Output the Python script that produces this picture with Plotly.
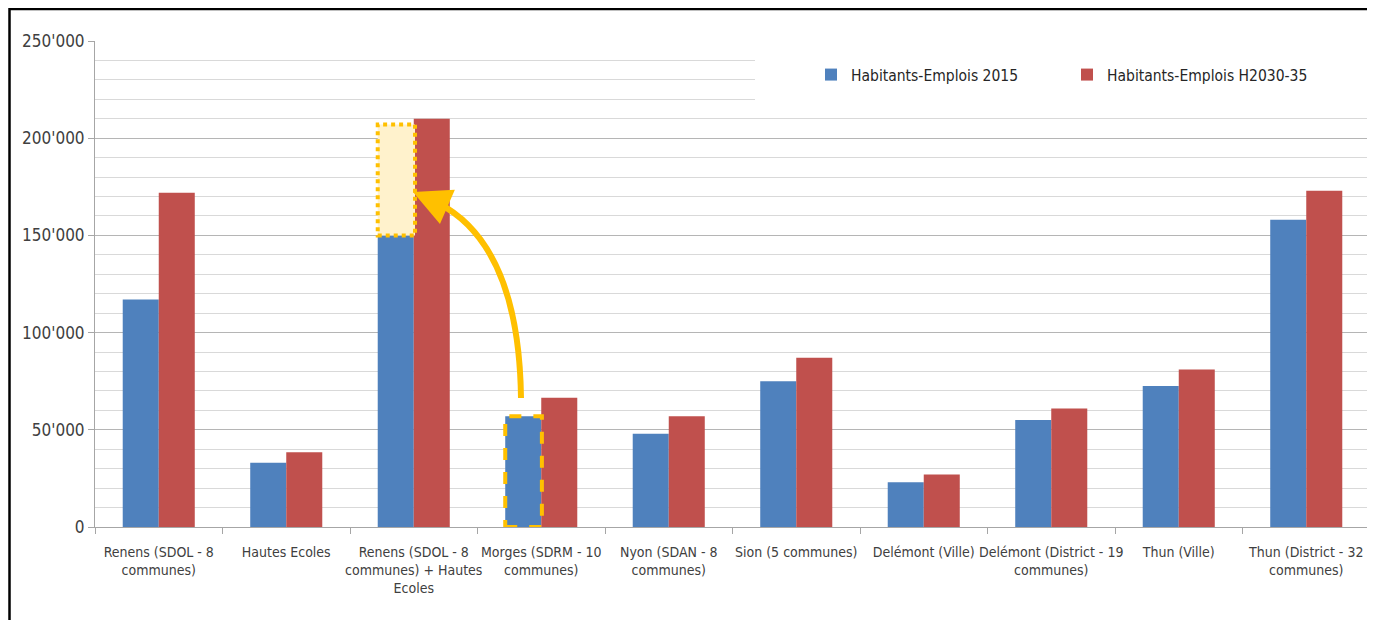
import plotly.graph_objects as go

categories = [
    "Renens (SDOL - 8<br>communes)",
    "Hautes Ecoles",
    "Renens (SDOL - 8<br>communes) + Hautes<br>Ecoles",
    "Morges (SDRM - 10<br>communes)",
    "Nyon (SDAN - 8<br>communes)",
    "Sion (5 communes)",
    "Delémont (Ville)",
    "Delémont (District - 19<br>communes)",
    "Thun (Ville)",
    "Thun (District - 32<br>communes)",
]
hab_2015 = [117000, 33000, 150000, 57000, 48000, 75000, 23000, 55000, 72500, 158000]
hab_2035 = [172000, 38500, 210000, 66500, 57000, 87000, 27000, 61000, 81000, 173000]
series_names = ["Habitants-Emplois 2015", "Habitants-Emplois H2030-35"]
y_ticks = [0, 50000, 100000, 150000, 200000, 250000]

BLUE = "#4F81BD"
RED = "#C0504D"
GOLD = "#FFC000"
FONT = "DejaVu Sans Condensed, Liberation Sans Narrow, Roboto, sans-serif"

x = list(range(len(categories)))
bargap = 0.435
bw = (1 - bargap) / 2

fig = go.Figure()
fig.add_trace(go.Bar(x=x, y=hab_2015, name=series_names[0], marker_color=BLUE,
                     marker_line_width=0))
fig.add_trace(go.Bar(x=x, y=hab_2035, name=series_names[1], marker_color=RED,
                     marker_line_width=0))

# page body has an 8px margin: work in reference pixel coords, shift by OFF
OFF = 8
W, H = 1367, 612
PL, PR, PT, PB = 95, 1370, 41, 527          # plot area in reference pixels
L, T = PL - OFF, PT - OFF
R = W - (PR - OFF)
B = H - (PB - OFF)
pw, ph = PR - PL, PB - PT
ncat = len(categories)

def px2paper_x(px):
    return (px - PL) / pw

def px2paper_y(py):
    return (PB - py) / ph

def dx(px):
    return (px - PL) / (pw / ncat) - 0.5

def dy(py):
    return (PB - py) / ph * 250000

shapes = []
# white box behind legend (hides gridlines)
shapes.append(dict(type="rect", xref="paper", yref="paper",
                   x0=px2paper_x(755), x1=px2paper_x(1390),
                   y0=px2paper_y(101), y1=px2paper_y(30),
                   fillcolor="white", line_width=0, layer="above"))
# dotted highlight: Morges added on top of Renens+HE
i2, i3 = 2, 3
shapes.append(dict(type="rect", xref="x", yref="y",
                   x0=i2 - bw, x1=i2 + 0.01,
                   y0=hab_2015[i2], y1=hab_2015[i2] + hab_2015[i3],
                   fillcolor="#FFF2CC", line=dict(color=GOLD, width=4, dash="dot"),
                   layer="above"))
# dashed rectangle around Morges 2015
shapes.append(dict(type="rect", xref="x", yref="y",
                   x0=i3 - bw, x1=i3 + 0.005,
                   y0=0, y1=hab_2015[i3],
                   fillcolor="rgba(0,0,0,0)", line=dict(color=GOLD, width=4, dash="dash"),
                   layer="above"))

# curved arrow
p0 = (dx(521), dy(398))
c = (dx(519), dy(245))
p2 = (dx(438), dy(203))
shapes.append(dict(type="path", xref="x", yref="y",
                   path=f"M {p0[0]},{p0[1]} Q {c[0]},{c[1]} {p2[0]},{p2[1]}",
                   line=dict(color=GOLD, width=6), layer="above"))

# frame (left and top edges; right edge lies outside the picture)
fx0, fx1 = px2paper_x(9.5), px2paper_x(1375)
fy0, fy1 = px2paper_y(640), px2paper_y(9)
shapes.append(dict(type="path", xref="paper", yref="paper",
                   path=f"M {fx0},{fy0} L {fx0},{fy1} L {fx1},{fy1}",
                   line=dict(color="black", width=2.5), layer="above"))

annotations = [dict(x=dx(413), y=dy(192), xref="x", yref="y", text="",
                    showarrow=True, arrowhead=2, arrowsize=1.25, arrowwidth=6,
                    arrowcolor=GOLD, ax=30, ay=13, axref="pixel", ayref="pixel")]

fig.update_layout(
    width=W, height=H,
    margin=dict(l=L, r=R, t=T, b=B, autoexpand=False),
    paper_bgcolor="white", plot_bgcolor="white",
    barmode="group", bargap=bargap, bargroupgap=0,
    separators=".'",
    font=dict(family=FONT, color="#404040"),
    shapes=shapes,
    annotations=annotations,
    legend=dict(orientation="h", x=px2paper_x(811), y=px2paper_y(75),
                xanchor="left", yanchor="middle",
                font=dict(size=15.5, color="#262626", family=FONT),
                bgcolor="rgba(0,0,0,0)", entrywidth=211, entrywidthmode="pixels",
                itemwidth=30),
    xaxis=dict(
        range=[-0.5, ncat - 0.5],
        tickmode="array", tickvals=x, ticktext=categories,
        ticks="", tickangle=0, automargin=False, ticklabelstandoff=12,
        tickfont=dict(size=14, color="#404040"),
        showgrid=False, zeroline=False,
        showline=True, linecolor="#A6A6A6", linewidth=1,
        minor=dict(tickmode="linear", tick0=-0.5, dtick=1, ticks="outside",
                   ticklen=6, tickcolor="#A6A6A6", showgrid=False),
    ),
    yaxis=dict(
        range=[0, 250000], automargin=False,
        tickmode="array", tickvals=y_ticks, tickformat=",d",
        ticks="outside", ticklen=6, tickcolor="#A6A6A6",
        tickfont=dict(size=17, color="#404040"),
        showgrid=True, gridcolor="#B5B5B5", gridwidth=1,
        minor=dict(dtick=10000, showgrid=True, gridcolor="#D9D9D9", gridwidth=1),
        zeroline=False,
        showline=True, linecolor="#A6A6A6", linewidth=1,
    ),
)

fig.write_html("out.html")
